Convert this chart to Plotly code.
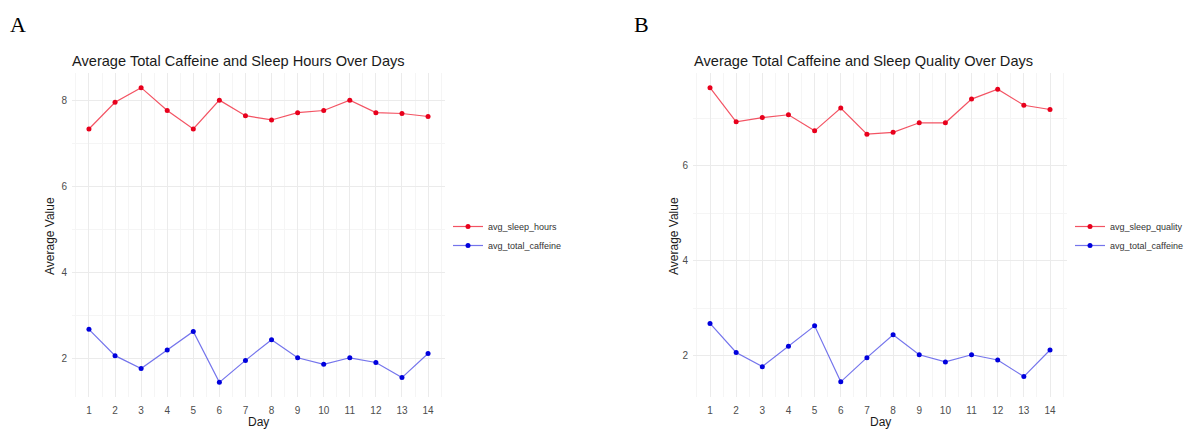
import plotly.graph_objects as go

days = list(range(1, 15))
avg_sleep_hours = [7.33, 7.95, 8.29, 7.76, 7.33, 8.00, 7.64, 7.54, 7.71, 7.76, 8.00, 7.71, 7.69, 7.62]
avg_sleep_quality = [7.65, 6.93, 7.02, 7.08, 6.74, 7.22, 6.67, 6.71, 6.91, 6.91, 7.41, 7.62, 7.28, 7.19]
avg_total_caffeine = [2.68, 2.07, 1.77, 2.20, 2.63, 1.45, 1.96, 2.44, 2.02, 1.87, 2.02, 1.91, 1.56, 2.12]

W, H = 1187, 430
RED_LINE = "rgba(240,40,60,0.8)"
BLUE_LINE = "rgba(70,70,230,0.75)"
FONT = "Liberation Sans, Arial, sans-serif"

fig = go.Figure()

def add(x, y, name, lc, mc, xa, ya, legend):
    fig.add_trace(go.Scatter(
        x=x, y=y, name=name, mode="lines+markers",
        line=dict(color=lc, width=1.2),
        marker=dict(color=mc, size=5),
        xaxis=xa, yaxis=ya, legend=legend))

add(days, avg_sleep_hours, "avg_sleep_hours", RED_LINE, "#e8001c", "x", "y", "legend")
add(days, avg_total_caffeine, "avg_total_caffeine", BLUE_LINE, "#0000dd", "x", "y", "legend")
add(days, avg_sleep_quality, "avg_sleep_quality", RED_LINE, "#e8001c", "x2", "y2", "legend2")
add(days, avg_total_caffeine, "avg_total_caffeine", BLUE_LINE, "#0000dd", "x2", "y2", "legend2")

def px_x(p):
    return p / W

def px_y(p):
    return 1 - p / H

yd = [px_y(397), px_y(73)]

def xaxis(dom, anchor):
    return dict(domain=dom, anchor=anchor, range=[0.35, 14.65], tickmode="array",
                tickvals=days, ticktext=[str(d) for d in days],
                showgrid=True, gridcolor="#ebebeb", gridwidth=1,
                minor=dict(tickmode="array", tickvals=[d + 0.5 for d in range(0, 15)],
                           showgrid=True, gridcolor="#f5f5f5", gridwidth=1),
                zeroline=False, showline=False, ticks="", ticklabelstandoff=6,
                tickfont=dict(family=FONT, size=10, color="#4d4d4d"))

def yaxis(dom, anchor, rng):
    return dict(domain=dom, anchor=anchor, range=rng, tickmode="array",
                tickvals=[2, 4, 6, 8], showgrid=True, gridcolor="#ebebeb", gridwidth=1,
                minor=dict(tickmode="array", tickvals=[1, 3, 5, 7, 9],
                           showgrid=True, gridcolor="#f5f5f5", gridwidth=1),
                zeroline=False, showline=False, ticks="", ticklabelstandoff=4,
                tickfont=dict(family=FONT, size=10, color="#4d4d4d"))

leg_common = dict(font=dict(family=FONT, size=9, color="#333333"),
                  bgcolor="rgba(0,0,0,0)", xanchor="left", yanchor="top",
                  tracegroupgap=0, itemwidth=30)

fig.update_layout(
    width=W, height=H, margin=dict(l=0, r=0, t=0, b=0, autoexpand=False),
    paper_bgcolor="white", plot_bgcolor="white",
    xaxis=xaxis([px_x(72), px_x(445)], "y"),
    yaxis=yaxis(yd, "x", [1.11, 8.63]),
    xaxis2=xaxis([px_x(693), px_x(1067)], "y2"),
    yaxis2=yaxis(yd, "x2", [1.13, 7.96]),
    legend=dict(x=px_x(448), y=px_y(212), **leg_common),
    legend2=dict(x=px_x(1070), y=px_y(212), **leg_common),
    showlegend=True,
)

anns = [
    dict(text="A", x=px_x(8), y=px_y(25), xanchor="left", yanchor="middle",
         font=dict(family="Liberation Serif, Times New Roman, serif", size=22, color="black")),
    dict(text="B", x=px_x(632), y=px_y(25), xanchor="left", yanchor="middle",
         font=dict(family="Liberation Serif, Times New Roman, serif", size=22, color="black")),
    dict(text="Average Total Caffeine and Sleep Hours Over Days", x=px_x(70), y=px_y(61),
         xanchor="left", yanchor="middle", font=dict(family=FONT, size=14.6, color="#1a1a1a")),
    dict(text="Average Total Caffeine and Sleep Quality Over Days", x=px_x(692), y=px_y(61),
         xanchor="left", yanchor="middle", font=dict(family=FONT, size=14.6, color="#1a1a1a")),
    dict(text="Day", x=px_x(258), y=px_y(422), xanchor="center", yanchor="middle",
         font=dict(family=FONT, size=12, color="#1a1a1a")),
    dict(text="Day", x=px_x(880), y=px_y(422), xanchor="center", yanchor="middle",
         font=dict(family=FONT, size=12, color="#1a1a1a")),
    dict(text="Average Value", x=px_x(50), y=px_y(236), xanchor="center", yanchor="middle",
         textangle=-90, font=dict(family=FONT, size=12, color="#1a1a1a")),
    dict(text="Average Value", x=px_x(674), y=px_y(236), xanchor="center", yanchor="middle",
         textangle=-90, font=dict(family=FONT, size=12, color="#1a1a1a")),
]
for a in anns:
    a.update(xref="paper", yref="paper", showarrow=False)
fig.update_layout(annotations=anns)

post = (
    "var s=document.createElement('style');"
    "s.textContent='html,body{margin:0;padding:0;overflow:hidden;width:1187px;height:430px;}';"
    "document.head.appendChild(s);"
)
fig.write_html("out.html", config={"displayModeBar": False}, post_script=post)
